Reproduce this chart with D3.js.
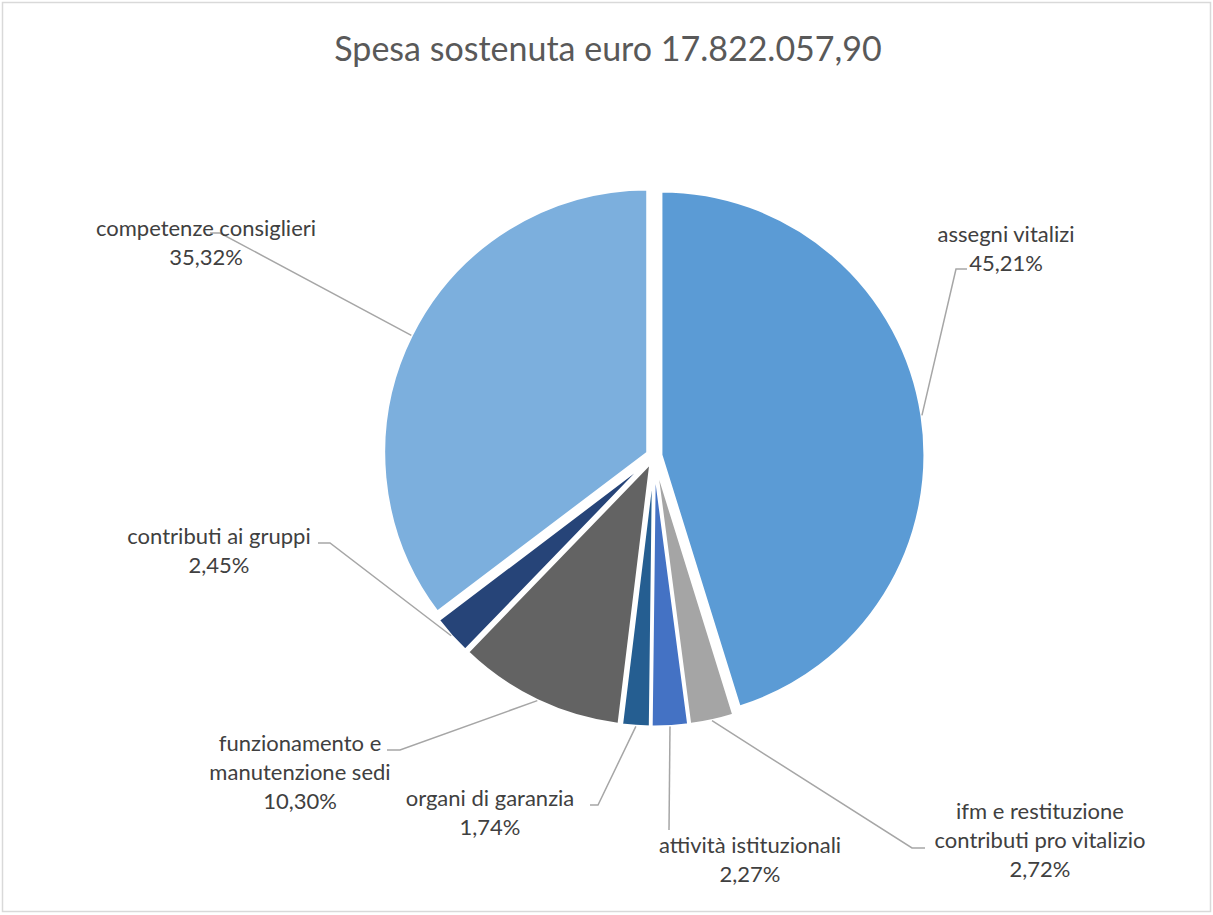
<!DOCTYPE html>
<html>
<head>
<meta charset="utf-8">
<script src="https://cdn.jsdelivr.net/npm/d3@7"></script>
<style>
  body { margin: 0; background: #fff; }
  svg text { font-family: Lato, "Open Sans", sans-serif; }
</style>
</head>
<body>
<svg id="chart" width="1213" height="915"></svg>
<script>
const width = 1213
const height = 915

const title = 'Spesa sostenuta euro 17.822.057,90';

// slices, clockwise from 12 o'clock
const categories = [
    ['assegni vitalizi'],
    ['ifm e restituzione', 'contributi pro vitalizio'],
    ['attività istituzionali'],
    ['organi di garanzia'],
    ['funzionamento e', 'manutenzione sedi'],
    ['contributi ai gruppi'],
    ['competenze consiglieri']
];
const shares = [45.21, 2.72, 2.27, 1.74, 10.30, 2.45, 35.32];

const palette = ['#5b9bd5', '#a5a5a5', '#4472c4', '#255e91', '#636363', '#264478', '#7cafdd'];

// where each data label sits (centre x, first baseline) and how its leader line ends
const labelLayout = [
    { x: 1006, y: 242, elbow: [956, 269], end: [967, 269] },
    { x: 1040, y: 819, elbow: [912, 848], end: [925, 848] },
    { x: 750,  y: 853, elbow: [669, 830], end: [669, 830] },
    { x: 490,  y: 806, elbow: [598, 805], end: [590, 805] },
    { x: 300,  y: 751, elbow: [400, 750], end: [387, 750] },
    { x: 219,  y: 544, elbow: [330, 543], end: [318, 543] },
    { x: 206,  y: 236, elbow: [220, 233], end: [210, 233] }
];

const cx = 654, cy = 456;
const radius = 264;
const explode = 7;
const lineHeight = 29;

const it = d3.formatLocale({ decimal: ',', thousands: '.', grouping: [3], currency: ['€', ''] });
const pct = it.format('.2f');

const svg = d3.select('#chart');

// chart area border
svg.append('rect')
    .attr('x', 2.5).attr('y', 2.5)
    .attr('width', width - 5).attr('height', height - 6)
    .attr('fill', '#fff')
    .attr('stroke', '#d9d9d9')
    .attr('stroke-width', 1.5);

svg.append('text')
    .attr('x', 608)
    .attr('y', 61)
    .attr('text-anchor', 'middle')
    .attr('font-size', 34)
    .attr('fill', '#595959')
    .text(title);

const pie = d3.pie().sort(null).value(d => d);
const arcs = pie(shares);
const arc = d3.arc().innerRadius(0).outerRadius(radius);

const midAngle = d => (d.startAngle + d.endAngle) / 2;
const shift = (d, r) => [Math.sin(midAngle(d)) * r, -Math.cos(midAngle(d)) * r];

const g = svg.append('g').attr('transform', `translate(${cx},${cy})`);

g.selectAll('path.slice')
    .data(arcs)
    .join('path')
    .attr('class', 'slice')
    .attr('d', arc)
    .attr('transform', d => `translate(${shift(d, explode)})`)
    .attr('fill', (d, i) => palette[i])
    .attr('stroke', '#fff')
    .attr('stroke-width', 3)
    .attr('stroke-linejoin', 'round');

// leader lines
svg.append('g')
    .selectAll('polyline')
    .data(arcs)
    .join('polyline')
    .attr('points', (d, i) => {
        let p = shift(d, radius + explode);
        let lay = labelLayout[i];
        return [[cx + p[0], cy + p[1]], lay.elbow, lay.end].map(q => q.join(',')).join(' ');
    })
    .attr('fill', 'none')
    .attr('stroke', '#a6a6a6')
    .attr('stroke-width', 1.5);

// data labels
const labels = svg.append('g')
    .selectAll('text')
    .data(arcs)
    .join('text')
    .attr('text-anchor', 'middle')
    .attr('font-size', 22)
    .attr('fill', '#404040');

labels.each(function(d, i) {
    let lines = categories[i].concat([pct(shares[i]) + '%']);
    let lay = labelLayout[i];
    d3.select(this).selectAll('tspan')
        .data(lines)
        .join('tspan')
        .attr('x', lay.x)
        .attr('y', (t, j) => lay.y + j * lineHeight)
        .text(t => t);
});
</script>
</body>
</html>
